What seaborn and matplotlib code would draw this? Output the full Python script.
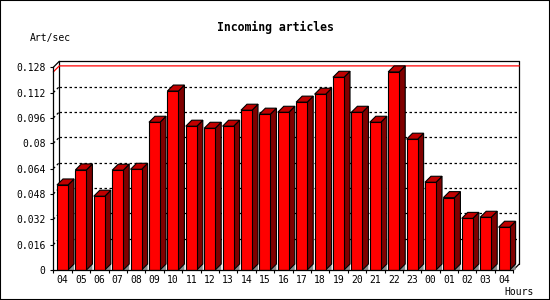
import numpy as np
import pandas as pd
import matplotlib
matplotlib.use("Agg")
import matplotlib.pyplot as plt
from matplotlib.patches import Polygon, Rectangle
import seaborn as sns

# ---- data ----
hours = ["04", "05", "06", "07", "08", "09", "10", "11", "12", "13", "14", "15",
         "16", "17", "18", "19", "20", "21", "22", "23", "00", "01", "02", "03", "04"]
art_per_sec = [0.0537, 0.0632, 0.0466, 0.0630, 0.0636, 0.0933, 0.1130, 0.0908,
               0.0895, 0.0908, 0.1009, 0.0984, 0.0996, 0.1060, 0.1110, 0.1217,
               0.0996, 0.0933, 0.1251, 0.0826, 0.0554, 0.0457, 0.0326, 0.0333, 0.0270]
ytick_vals = [0, 0.016, 0.032, 0.048, 0.064, 0.08, 0.096, 0.112, 0.128]
ytick_labels = ["0", "0.016", "0.032", "0.048", "0.064", "0.08", "0.096", "0.112", "0.128"]
title = "Incoming articles"
ylabel = "Art/sec"
xlabel = "Hours"

# ---- style ----
sns.set_style("white")
plt.rcParams["font.family"] = ["DejaVu Sans Mono", "DejaVu Sans"]

W, H = 550, 300
fig = plt.figure(figsize=(W / 100, H / 100), dpi=100)
fig.patch.set_facecolor("white")

n = len(art_per_sec)
ymax = ytick_vals[-1]
# front plane pixel geometry
px_left, px_right = 53.3, 513.3
py_zero, py_top = 270.0, 67.3
ax = fig.add_axes([px_left / W, 1 - py_zero / H, (px_right - px_left) / W, (py_zero - py_top) / H])
ax.set_facecolor("none")

df = pd.DataFrame({"slot": np.arange(n), "value": art_per_sec})
sns.barplot(data=df, x="slot", y="value", ax=ax, width=0.6, color="#ff0000",
            saturation=1, edgecolor="black", linewidth=0.8, zorder=3)

ax.set_xlim(-0.5, n - 0.5)
ax.set_ylim(0, ymax)

slot_px = (px_right - px_left) / n
px_per_unit = (py_zero - py_top) / ymax
dx = 6.0 / slot_px
dy = 6.0 / px_per_unit

# 3D faces
for p in list(ax.patches):
    x, w, h = p.get_x(), p.get_width(), p.get_height()
    p.set_zorder(3)
    tri = Polygon([(x + w, 0), (x + w + dx, dy), (x + w + dx, 0)], closed=True,
                  facecolor="#8c8c8c", edgecolor="none", zorder=2.5, clip_on=False)
    side = Polygon([(x + w, 0), (x + w, h), (x + w + dx, h + dy), (x + w + dx, dy)], closed=True,
                   facecolor="#800000", edgecolor="black", linewidth=0.8, zorder=2.8, clip_on=False)
    top = Polygon([(x, h), (x + dx, h + dy), (x + w + dx, h + dy), (x + w, h)], closed=True,
                  facecolor="#c00000", edgecolor="black", linewidth=0.8, zorder=2.8, clip_on=False)
    ax.add_patch(tri)
    ax.add_patch(side)
    ax.add_patch(top)

xl, xr = -0.5, n - 0.5
# back plane gridlines (dotted) and short diagonal connectors
for v in ytick_vals[1:-1]:
    ax.plot([xl + dx, xr + dx], [v + dy, v + dy], color="black", lw=0.9,
            linestyle=(0, (2, 2)), zorder=1, clip_on=False)
    ax.plot([xl, xl + dx], [v, v + dy], color="black", lw=0.9,
            linestyle=(0, (2, 2)), zorder=1, clip_on=False)
# back box
ax.plot([xl + dx, xr + dx], [ymax + dy, ymax + dy], color="black", lw=0.9, zorder=1, clip_on=False)
ax.plot([xl, xl + dx], [ymax, ymax + dy], color="black", lw=0.9, zorder=1, clip_on=False)
ax.plot([xl + dx, xl + dx], [dy, ymax + dy], color="black", lw=0.9, zorder=1, clip_on=False)
ax.plot([xr + dx, xr + dx], [dy, ymax + dy], color="black", lw=0.9, zorder=1, clip_on=False)
ax.plot([xr, xr + dx], [0, dy], color="black", lw=0.9, zorder=1, clip_on=False)
# maximum line (red)
vmax = max(art_per_sec)
ax.plot([xl, xl + dx, xr + dx], [vmax, vmax + dy, vmax + dy], color="#ff0000", lw=0.9,
        zorder=1.5, clip_on=False)

# spines
for s in ["top", "right"]:
    ax.spines[s].set_visible(False)
for s in ["left", "bottom"]:
    ax.spines[s].set_color("black")
    ax.spines[s].set_linewidth(0.9)
    ax.spines[s].set_zorder(4)

# ticks
ax.set_yticks(ytick_vals)
ax.set_yticklabels(ytick_labels)
ax.set_xticks(np.arange(n))
ax.set_xticklabels(hours)
ax.set_xticks(np.arange(n + 1) - 0.5, minor=True)
ax.tick_params(axis="y", which="major", length=2.2, width=0.8, direction="out",
               labelsize=7, pad=3.5, colors="black", left=True)
ax.tick_params(axis="x", which="major", length=0, labelsize=7, pad=3.5, colors="black")
ax.tick_params(axis="x", which="minor", length=2.2, width=0.8, direction="out",
               bottom=True, colors="black")
ax.set_xlabel("")
ax.set_ylabel("")

# texts
fig.text(0.5, 1 - 27.5 / H, title, ha="center", va="center", fontsize=8.3,
         fontweight="bold", color="black")
fig.text(30 / W, 1 - 38.5 / H, ylabel, ha="left", va="center", fontsize=7, color="black")
fig.text(504 / W, 1 - 292 / H, xlabel, ha="left", va="center", fontsize=7, color="black")

# outer border
fig.patches.append(Rectangle((0, 0), 1, 1, transform=fig.transFigure, fill=False,
                             edgecolor="black", linewidth=1.5, zorder=10))

fig.savefig("out.png", dpi=100, facecolor="white")
